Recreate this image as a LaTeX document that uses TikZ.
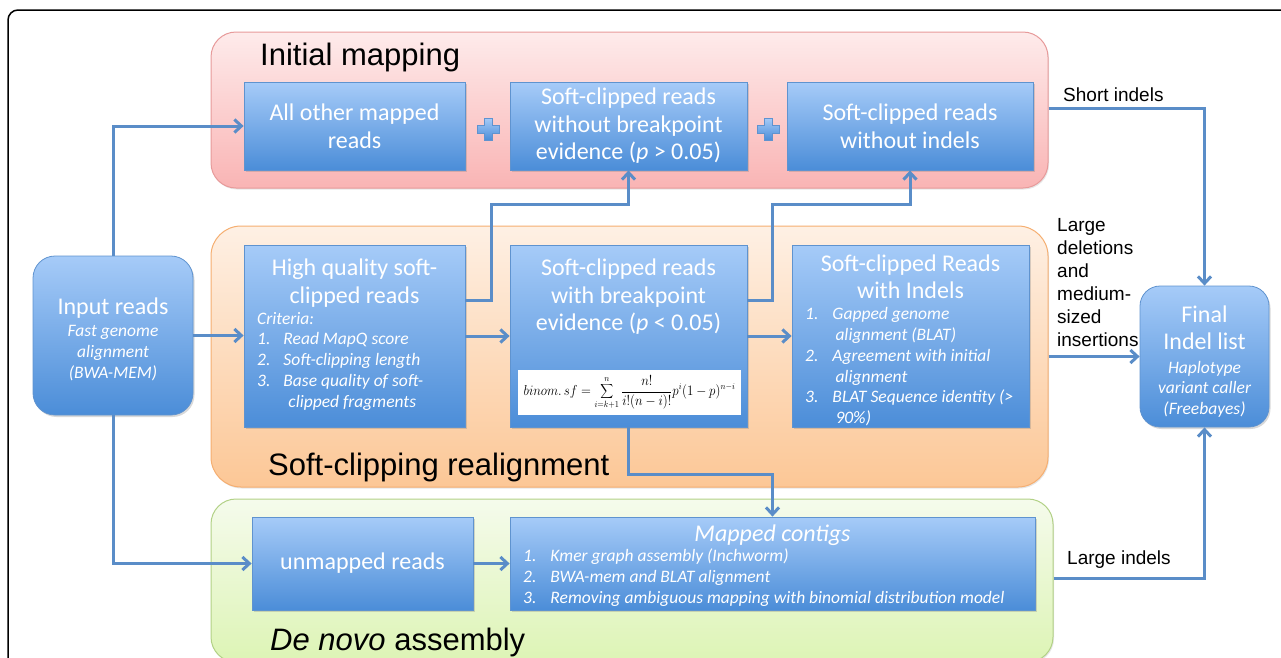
\documentclass[tikz,border=0pt]{standalone}
\usepackage[no-math]{fontspec}
\usepackage{graphicx}
\setmainfont{Carlito}
\newfontfamily\arialfont{Liberation Sans}
\usetikzlibrary{arrows.meta,shadows}

\definecolor{boxtop}{HTML}{A6CBF8}
\definecolor{boxbot}{HTML}{4B8DD8}
\definecolor{boxline}{HTML}{5F93CF}
\definecolor{linkblue}{HTML}{5A8DC8}
\definecolor{maptop}{HTML}{FEEBEB}
\definecolor{mapbot}{HTML}{F9B4B4}
\definecolor{mapline}{HTML}{E79A9A}
\definecolor{scrtop}{HTML}{FEF0E4}
\definecolor{scrbot}{HTML}{FCC796}
\definecolor{scrline}{HTML}{F5AE70}
\definecolor{dntop}{HTML}{F5FBEC}
\definecolor{dnbot}{HTML}{DDF4B5}
\definecolor{dnline}{HTML}{B2D186}

\newcommand{\procfont}{\fontsize{24}{27.5}\selectfont}
\newcommand{\critfont}{\itshape\fontsize{17.5}{20.8}\selectfont}
\newcommand{\grpfont}{\arialfont\fontsize{31}{36}\selectfont}
\newcommand{\lblfont}{\arialfont\fontsize{19}{23}\selectfont}

\begin{document}
\begin{tikzpicture}[x=1pt, y=-1pt,
    grp/.style={draw, line width=1pt, rounded corners=25pt, inner sep=0pt,
      drop shadow={shadow xshift=1pt, shadow yshift=-1.5pt, opacity=0.2}},
    proc/.style={draw=boxline, line width=0.8pt, top color=boxtop, bottom color=boxbot,
      drop shadow={shadow xshift=1.5pt, shadow yshift=-2pt, opacity=0.3},
      text=white, font=\procfont, align=center, inner sep=0pt},
    txt/.style={text=white, inner sep=0pt, align=center, font=\procfont},
    crit/.style={text=white, inner sep=0pt, font=\critfont},
    grptitle/.style={font=\grpfont, inner sep=0pt, anchor=base west},
    note/.style={font=\lblfont, inner sep=0pt, align=left},
    flow/.style={draw=linkblue, line width=3pt, -{Straight Barb[length=7pt,width=13pt]}},
    plus/.style={draw=boxline, line width=0.6pt, top color=boxtop, bottom color=boxbot}]
  \useasboundingbox (0,0) rectangle (1281,657);
  \clip (0,0) rectangle (1281,657);
  % frame
  \draw[line width=1.5pt, rounded corners=10pt] (1300,10) -- (8,10) -- (8,680);
  % groups
  \node[grp, draw=mapline, top color=maptop, bottom color=mapbot,
    minimum width=837, minimum height=156] (map) at (629.5,110) {};
  \node[grp, draw=scrline, top color=scrtop, bottom color=scrbot, rounded corners=30pt,
    minimum width=837, minimum height=261] (realign) at (629.5,356.5) {};
  \node[grp, draw=dnline, top color=dntop, bottom color=dnbot,
    minimum width=842, minimum height=163] (denovo) at (632,580.5) {};
  \node[grptitle] (maptitle) at (260,65) {Initial mapping};
  \node[grptitle] (realigntitle) at (268,475) {Soft-clipping realignment};
  \node[grptitle] (denovotitle) at (270,650) {\itshape De novo\upshape{} assembly};
  % input and output
  \node[proc, rounded corners=22pt, font=\critfont, minimum width=160, minimum height=159]
    (input) at (113,335.5) {{\upshape\procfont\rule{0pt}{24pt}Input reads}\\[2pt]Fast genome\\alignment\\(BWA-MEM)};
  \node[proc, rounded corners=20pt, font=\critfont, minimum width=129, minimum height=141]
    (final) at (1204.5,356.5) {{\upshape\procfont\rule{0pt}{27pt}Final}\\[6pt]{\upshape\procfont Indel list}\\[3pt]Haplotype\\variant caller\\(Freebayes)};
  % initial mapping
  \node[proc, minimum width=221, minimum height=88] (allmapped) at (354.5,126)
    {All other mapped\\reads};
  \node[proc, minimum width=237, minimum height=88] (nobreak) at (628.5,126)
    {Soft-clipped reads\\without breakpoint\\evidence (\textit{p} > 0.05)};
  \node[proc, minimum width=246, minimum height=88] (noindel) at (910,126)
    {Soft-clipped reads\\without indels};
  \foreach \px in {488,768}
    \draw[plus] (\px-4,118) -- (\px+4,118) -- (\px+4,125) -- (\px+11,125) -- (\px+11,133)
      -- (\px+4,133) -- (\px+4,140) -- (\px-4,140) -- (\px-4,133) -- (\px-11,133)
      -- (\px-11,125) -- (\px-4,125) -- cycle;
  % soft-clipping realignment
  \node[proc, minimum width=221, minimum height=182] (hiqual) at (354.5,336) {};
  \node[txt] (hiqualtitle) at (354.5,283) {High quality soft-\\clipped reads};
  \node[crit, anchor=west] (hiqualcrit) at (257,361.5) {\begin{tabular}{@{}l@{\hspace{13pt}}l@{}}
    \multicolumn{2}{@{}l}{Criteria:}\\
    1. & Read MapQ score\\
    2. & Soft-clipping length\\
    3. & Base quality of soft-\\
       & \hspace{5pt}clipped fragments
  \end{tabular}};
  \node[proc, minimum width=237, minimum height=182] (breakpt) at (628.5,336) {};
  \node[txt] (breakpttitle) at (628.5,297)
    {Soft-clipped reads\\with breakpoint\\evidence (\textit{p} < 0.05)};
  \node[fill=white, inner sep=0pt, minimum width=223, minimum height=45, font=\fontsize{13.5}{15}\selectfont]
    (binom) at (629.5,392.5)
    {\scalebox{0.9}[1]{$\displaystyle binom.\,sf=\sum_{i=k+1}^{n}\frac{n!}{i!(n-i)!}p^i(1-p)^{n-i}$}};
  \node[proc, minimum width=237, minimum height=182] (withindel) at (910.5,336) {};
  \node[txt] (withindeltitle) at (910.5,276.5) {Soft-clipped Reads\\with Indels};
  \node[crit, anchor=west] (withindelcrit) at (805,367.5) {\begin{tabular}{@{}l@{\hspace{14pt}}l@{}}
    1. & Gapped genome\\
       & \hspace{3pt}alignment (BLAT)\\
    2. & Agreement with initial\\
       & \hspace{3pt}alignment\\
    3. & BLAT Sequence identity (>\\
       & \hspace{3pt}90\%)
  \end{tabular}};
  % de novo assembly
  \node[proc, minimum width=221, minimum height=93] (unmapped) at (362.5,563.5) {unmapped reads};
  \node[proc, minimum width=525, minimum height=93] (contigs) at (772.5,563.5) {};
  \node[txt, font=\itshape\procfont] (contigstitle) at (772.5,535) {Mapped contigs};
  \node[crit, anchor=west] (contigscrit) at (523,578.5) {\begin{tabular}{@{}l@{\hspace{14pt}}l@{}}
    1. & Kmer graph assembly (Inchworm)\\
    2. & BWA-mem and BLAT alignment\\
    3. & Removing ambiguous mapping with binomial distribution model
  \end{tabular}};
  % connectors
  \draw[flow] (input.north) |- (allmapped.west);
  \draw[flow] (input.east) -- (input.east -| hiqual.west);
  \draw[flow] (input.south) |- (unmapped.west);
  \draw[flow] ([yshift=36pt]hiqual.east) -- ++(26,0) |- ([yshift=-34pt]nobreak.south) -- (nobreak.south);
  \draw[flow] ([yshift=36pt]breakpt.east) -- ++(25,0) |- ([yshift=-34pt]noindel.south) -- (noindel.south);
  \draw[flow] (hiqual.east) -- (breakpt.west);
  \draw[flow] (breakpt.east) -- (withindel.west);
  \draw[flow] (breakpt.south) -- ++(0,47) -| (contigs.north);
  \draw[flow] (unmapped.east) -- (contigs.west);
  \draw[flow] ([yshift=2pt]map.east) -| (final.north);
  \draw[flow] (realign.east) -- (final.west);
  \draw[flow] ([yshift=2.5pt]denovo.east) -| (final.south);
  % labels
  \node[note, anchor=base west] (shortlbl) at (1063,101) {Short indels};
  \node[note, anchor=north west] (largelbl) at (1057,218.5)
    {Large\\deletions\\and\\medium-\\sized\\insertions};
  \node[note, anchor=base west] (indellbl) at (1067,564) {Large indels};
\end{tikzpicture}
\end{document}
